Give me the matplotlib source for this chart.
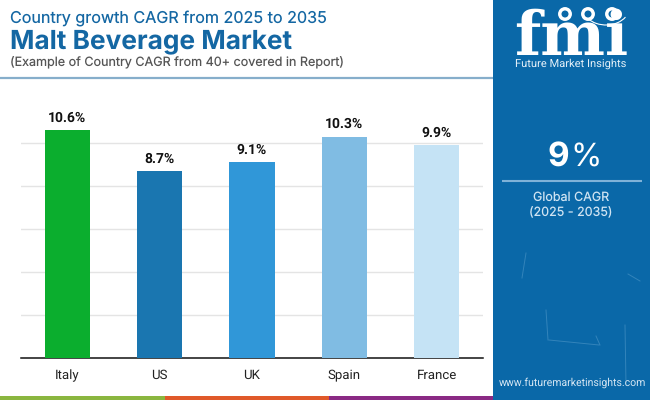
#!/usr/bin/env python
"""Malt beverage market: country CAGR bar chart with FMI side panel."""

import matplotlib
matplotlib.use('Agg')
import matplotlib.pyplot as plt
from matplotlib.patches import Rectangle, Circle, Arc

plt.rcParams['text.hinting'] = 'none'

countries = ['Italy', 'US', 'UK', 'Spain', 'France']
cagr = [10.6, 8.7, 9.1, 10.3, 9.9]
bar_colors = ['#0bae2e', '#1a76b0', '#3097d8', '#80bce3', '#c5e3f5']
grid_ticks = [2, 4, 6, 8, 10]

title_top = 'Country growth CAGR from 2025 to 2035'
title_main = 'Malt Beverage Market'
title_sub = '(Example of Country CAGR from 40+ covered in Report)'

BLUE = '#0a68a8'
TITLE_BLUE = '#1467a3'

fig = plt.figure(figsize=(6.5, 4), dpi=100, facecolor='white')

# Overlay in pixel coordinates for the header and side panel
bg = fig.add_axes([0, 0, 1, 1])
bg.set_xlim(0, 650)
bg.set_ylim(400, 0)
bg.axis('off')

bg.add_patch(Rectangle((493, 0), 157, 400, color=BLUE, lw=0))
bg.add_patch(Rectangle((0, 396), 165, 4, color='#8ab63f', lw=0))
bg.add_patch(Rectangle((165, 396), 164, 4, color='#e0592a', lw=0))
bg.add_patch(Rectangle((329, 396), 164, 4, color='#8a2a84', lw=0))
bg.plot([0, 493], [78, 78], color='#86aecb', lw=1.6, solid_capstyle='butt')

bg.text(10, 18, title_top, family='Inter', fontsize=11.6, color=TITLE_BLUE, va='center')
bg.text(10, 42, title_main, family='Inter', fontsize=18.9, fontweight='bold', color=TITLE_BLUE, va='center')
bg.text(10, 63, title_sub, family='Inter', fontsize=9.05, color='#555555', va='center')

# Faint scratches in the panel background
for xs, ys in [((526, 522), (253, 278)), ((625, 626), (325, 385)), ((628, 640), (274, 281)),
               ((549, 599), (340, 345)), ((546, 548), (310, 340)), ((596, 600), (336, 345))]:
    bg.plot(xs, ys, color='#7fb8de', lw=0.7, alpha=0.35)

# Logo
bg.text(571, 55, 'fmi', family='DejaVu Serif', fontsize=44, fontweight='bold',
        color='white', ha='center', va='baseline')
for y in range(27, 56, 5):
    bg.plot([510, 632], [y, y], color=BLUE, lw=0.7)
for x in [565, 588, 612]:
    bg.add_patch(Circle((x, 14), 8, fc='white', ec=BLUE, lw=1.5))
    bg.add_patch(Circle((x, 14), 3.5, fc=BLUE, lw=0))
bg.add_patch(Arc((606, 8), 46, 34, theta1=25, theta2=150, color='white', lw=0.8))
bg.text(571, 67, 'Future Market Insights', family='Roboto', fontsize=8, color='#e4f0f8',
        ha='center', va='baseline')

# Side panel figures
bg.text(569, 158, '9', family='Inter', fontsize=24, fontweight='bold', color='white',
        ha='right', va='center')
bg.text(570, 158, '%', family='Inter', fontsize=23, color='white', ha='left', va='center')
bg.plot([502, 642], [181, 181], color='#7fb2d8', lw=1.5, solid_capstyle='butt')
bg.text(571, 197, 'Global CAGR', family='Inter', fontsize=9, color='#cfe3f2', ha='center', va='center')
bg.text(571, 213, '(2025 - 2035)', family='Inter', fontsize=9, color='#cfe3f2', ha='center', va='center')
bg.text(572.5, 383, 'www.futuremarketinsights.com', family='Roboto', fontsize=7.6, color='#d5e6f3',
        ha='center', va='center')

# Bars: axes spans x 21-483, baseline at y 358, 21.5 px per unit
ax = fig.add_axes([21 / 650, 1 - 358 / 400, 462 / 650, 258 / 400])
ax.patch.set_alpha(0)
ax.bar(range(len(countries)), cagr, width=0.49, color=bar_colors, zorder=3)
ax.set_xlim(-0.5, 4.5)
ax.set_ylim(0, 12)
ax.set_yticks(grid_ticks)
ax.tick_params(axis='y', left=False, labelleft=False)
ax.grid(axis='y', color='#e4e4e4', lw=1, zorder=0)
ax.set_xticks(range(len(countries)))
ax.set_xticklabels(countries, family='Roboto', fontsize=9.5, color='#222222')
ax.tick_params(axis='x', length=0, pad=8)
for s in ['top', 'right', 'left']:
    ax.spines[s].set_visible(False)
ax.spines['bottom'].set_color('#111111')
ax.spines['bottom'].set_linewidth(1.1)

for i, v in enumerate(cagr):
    ax.text(i, v + 0.25, f'{v}%', family='Roboto', fontsize=10, fontweight='bold',
            color='#111111', ha='center', va='bottom')

fig.savefig('out.png', dpi=100)
plt.close()
